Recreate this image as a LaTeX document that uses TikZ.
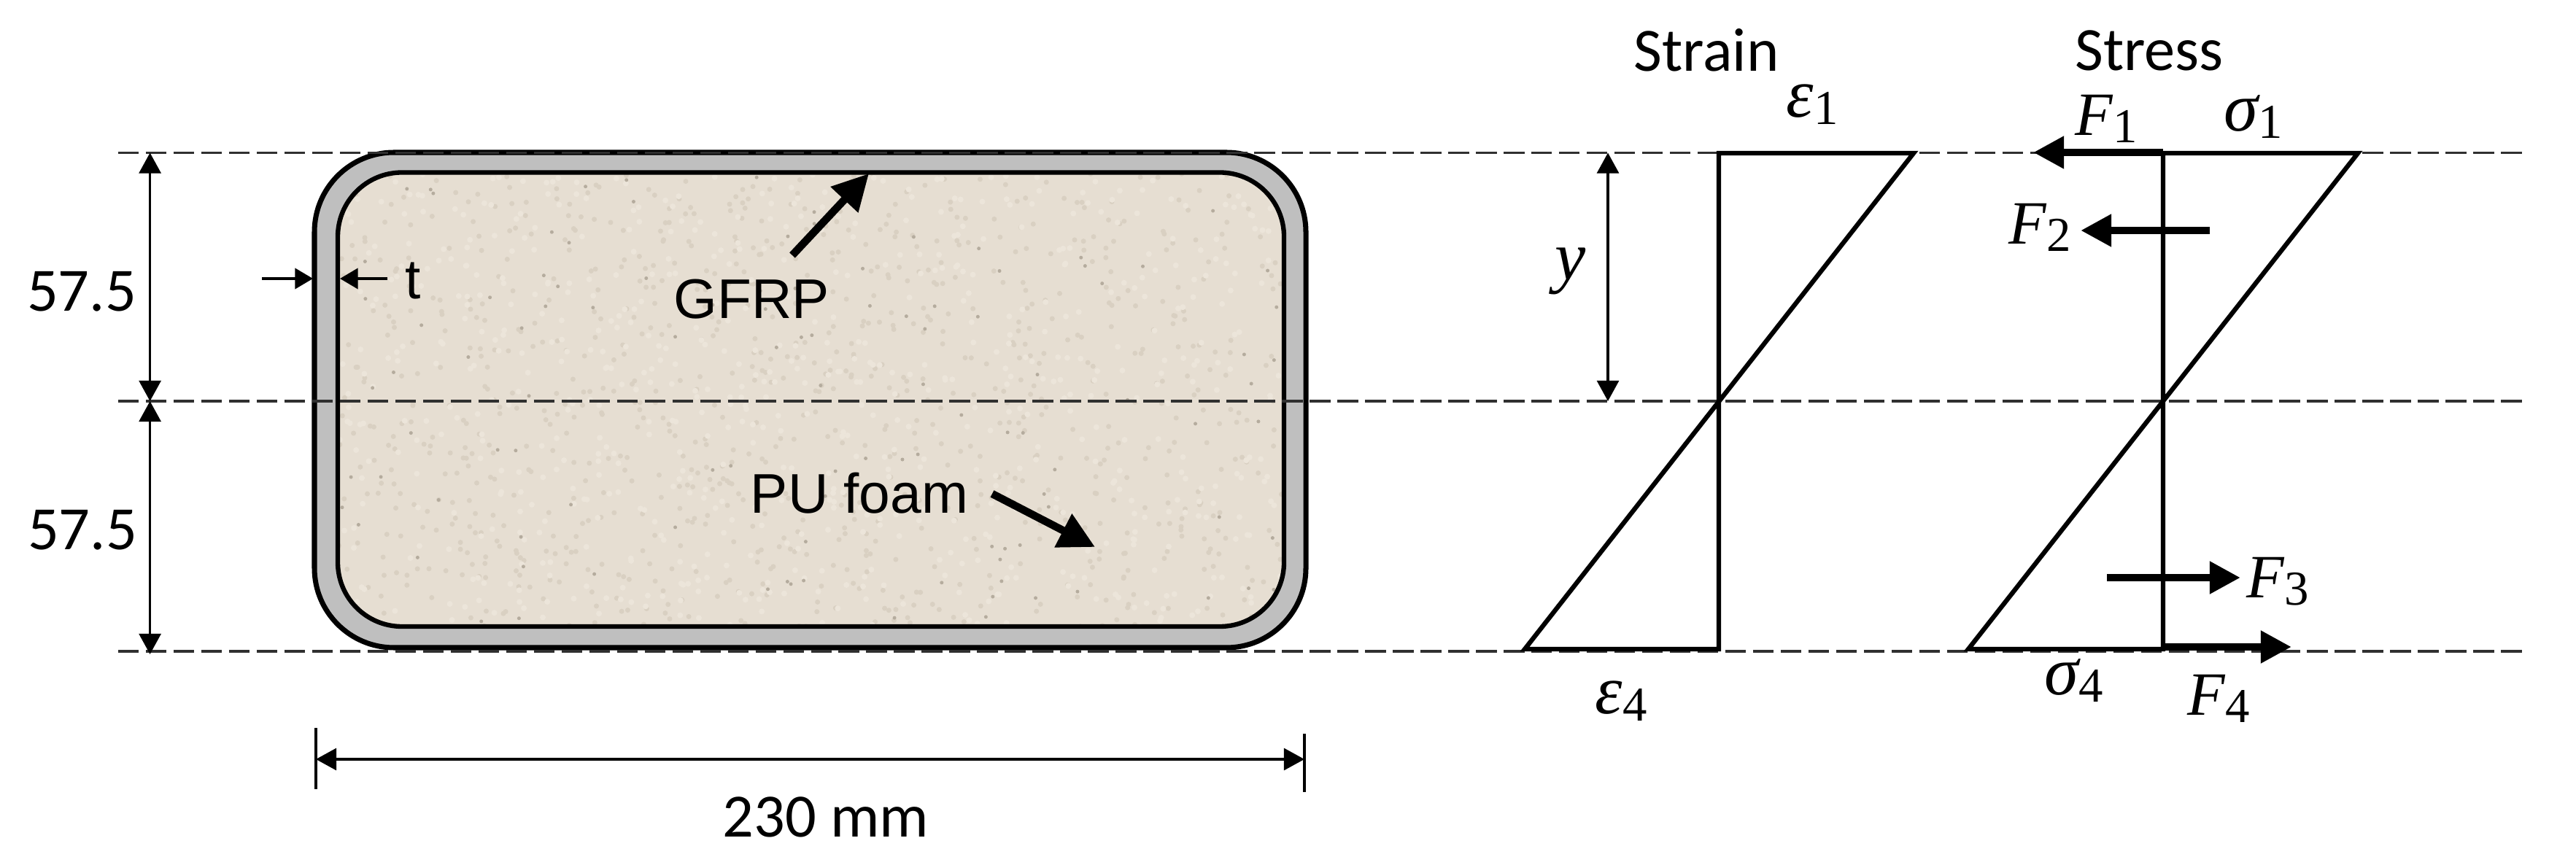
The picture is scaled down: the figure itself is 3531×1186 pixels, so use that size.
\documentclass[tikz,border=0pt]{standalone}
\usepackage{fontspec}
\setmainfont{Liberation Sans}
\newfontfamily\calib{Carlito}
\newfontfamily\symf{Liberation Serif}
\usetikzlibrary{arrows.meta}
\definecolor{foam}{HTML}{E6DED2}
\definecolor{speckA}{HTML}{D9D0C2}
\definecolor{speckB}{HTML}{ECE5DA}
\definecolor{speckC}{HTML}{B5AC9E}
\definecolor{band}{HTML}{BFBFBF}
\definecolor{dash}{HTML}{303030}
\newcommand{\symlab}[2]{{\fontsize{24}{28}\selectfont\symf\itshape #1}\raisebox{-0.3em}{\fontsize{19}{21}\selectfont\symf #2}}
\newcommand{\grklab}[2]{{\fontsize{27}{28}\selectfont\symf\itshape #1}\raisebox{-0.3em}{\fontsize{19}{21}\selectfont\symf #2}}
\tikzset{
  guide/.style={draw=dash,line width=1.1pt,dash pattern=on 8.1pt off 2.7pt},
  thinarrow/.style={draw=black,line width=1pt,{Triangle[length=8pt,width=8.5pt]}-{Triangle[length=8pt,width=8.5pt]}},
  tarrow/.style={draw=black,line width=1pt,-{Triangle[length=7pt,width=8pt]}},
  diagram/.style={draw=black,line width=1.8pt,line join=miter},
  force/.style={draw=black,line width=3pt,-{Triangle[length=12pt,width=12pt]}},
  leader/.style={draw=black,line width=3pt,-{Triangle[length=14pt,width=14pt]}},
  calibri/.style={font=\calib\fontsize{24}{27}\selectfont,inner sep=0pt},
  arial/.style={font=\fontsize{21.8}{24}\selectfont,inner sep=0pt},
  symbol/.style={inner sep=0pt},
}
\begin{document}
\begin{tikzpicture}[x=0.01cm,y=-0.01cm]
\useasboundingbox (0,0) rectangle (3531,1186);
% section
\draw[draw=black,line width=2pt,fill=band,rounded corners=31pt] (431,209) rectangle (1790,888);
\begin{scope}
\clip[rounded corners=25pt] (463,236.5) rectangle (1760,859);
\fill[foam] (463,236.5) rectangle (1760,859);
\pgfmathsetseed{7}
\foreach \k in {1,...,900}{
  \pgfmathsetmacro{\rx}{463+1297*rnd}
  \pgfmathsetmacro{\ry}{236+623*rnd}
  \fill[speckA] (\rx,\ry) circle[radius=0.035cm];
}
\foreach \k in {1,...,700}{
  \pgfmathsetmacro{\rx}{463+1297*rnd}
  \pgfmathsetmacro{\ry}{236+623*rnd}
  \fill[speckB] (\rx,\ry) circle[radius=0.04cm];
}
\foreach \k in {1,...,110}{
  \pgfmathsetmacro{\rx}{463+1297*rnd}
  \pgfmathsetmacro{\ry}{236+623*rnd}
  \fill[speckC] (\rx,\ry) circle[radius=0.025cm];
}
\end{scope}
\draw[draw=black,line width=1.8pt,rounded corners=25pt] (463,236.5) rectangle (1760,859);
% coordinates
\coordinate (gtl) at (162,209.5); \coordinate (gtr) at (3466,209.5);
\coordinate (gml) at (162,550);   \coordinate (gmr) at (3466,550);
\coordinate (gbl) at (162,893);   \coordinate (gbr) at (3466,893);
\coordinate (da) at (205.6,209.5); \coordinate (db) at (205.6,550); \coordinate (dc) at (205.6,897);
\coordinate (ya) at (2204,209.5); \coordinate (yb) at (2204,550);
\coordinate (wl) at (433,1041); \coordinate (wr) at (1788,1041);
\coordinate (wlt) at (433,998); \coordinate (wlb) at (433,1082);
\coordinate (wrt) at (1788,1006); \coordinate (wrb) at (1788,1086);
\coordinate (t1a) at (359,382); \coordinate (t1b) at (429,382);
\coordinate (t2a) at (531,382); \coordinate (t2b) at (466,382);
\coordinate (ga) at (1086,350); \coordinate (gb) at (1191,238);
\coordinate (pa) at (1360,677); \coordinate (pb) at (1501,750);
% guides
\draw[guide] (gtl) -- (gtr);
\draw[guide] (gml) -- (gmr);
\draw[guide] (gbl) -- (gbr);
% dimensions
\draw[thinarrow] (da) -- (db);
\draw[thinarrow] (db) -- (dc);
\draw[thinarrow] (wl) -- (wr);
\draw[draw=black,line width=1pt] (wlt) -- (wlb);
\draw[draw=black,line width=1pt] (wrt) -- (wrb);
\draw[tarrow] (t1a) -- (t1b);
\draw[tarrow] (t2a) -- (t2b);
\draw[thinarrow] (ya) -- (yb);
% leaders
\draw[leader] (ga) -- (gb);
\draw[leader] (pa) -- (pb);
% strain
\coordinate (s1) at (2356,890); \coordinate (s2) at (2356,210); \coordinate (s3) at (2623,210); \coordinate (s4) at (2090,890);
\draw[diagram] (s1) -- (s2) -- (s3) -- (s4) -- cycle;
% stress
\coordinate (r1) at (2965,890); \coordinate (r2) at (2965,210); \coordinate (r3) at (3232,210); \coordinate (r4) at (2698,890);
\draw[diagram] (r1) -- (r2) -- (r3) -- (r4) -- cycle;
% forces
\coordinate (f1a) at (2965,209); \coordinate (f1b) at (2787,209);
\coordinate (f2a) at (3029,316); \coordinate (f2b) at (2852,316);
\coordinate (f3a) at (2888,792); \coordinate (f3b) at (3071,792);
\coordinate (f4a) at (2965,887); \coordinate (f4b) at (3141,887);
\draw[force] (f1a) -- (f1b);
\draw[force] (f2a) -- (f2b);
\draw[force] (f3a) -- (f3b);
\draw[force] (f4a) -- (f4b);
% labels
\node[calibri] (d1) at (112,400) {57.5};
\node[calibri] (d2) at (113,727) {57.5};
\node[calibri] (w) at (1132,1120) {230 mm};
\node[calibri] (strain) at (2339,69) {Strain};
\node[calibri] (stress) at (2946,69) {Stress};
\node[arial] (tl) at (566,385) {t};
\node[arial] (gfrp) at (1030,410) {GFRP};
\node[arial] (pu) at (1178,676) {PU foam};
\node[symbol] (e1) at (2484,143) {\grklab{ε}{1}};
\node[symbol] (e4) at (2222,961) {\grklab{ε}{4}};
\node[symbol] (o1) at (3089,160) {\grklab{σ}{1}};
\node[symbol] (o4) at (2843,933) {\grklab{σ}{4}};
\node[symbol] (F1) at (2887,163) {\symlab{F}{1}};
\node[symbol] (F2) at (2796,312) {\symlab{F}{2}};
\node[symbol] (F3) at (3122,797) {\symlab{F}{3}};
\node[symbol] (F4) at (3041,958) {\symlab{F}{4}};
\node[symbol] (yl) at (2153,372) {{\fontsize{27}{28}\selectfont\symf\itshape y}};
\end{tikzpicture}
\end{document}
